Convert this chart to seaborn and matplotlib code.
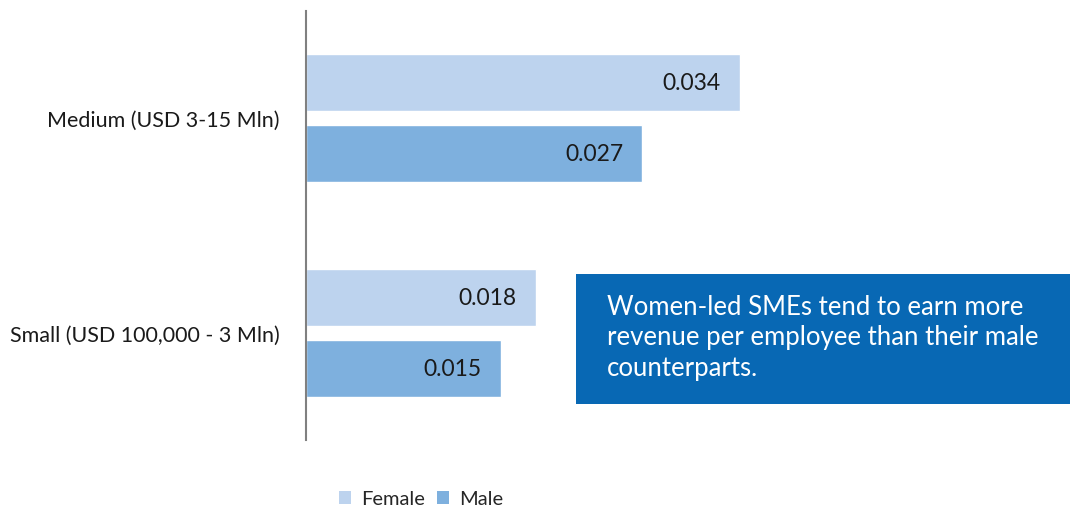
import pandas as pd
import matplotlib.pyplot as plt
import seaborn as sns
from matplotlib.patches import Rectangle, Patch

# Dados
categories = ["Medium (USD 3-15 Mln)", "Small (USD 100,000 - 3 Mln)"]
female = [0.0343, 0.0182]
male = [0.0266, 0.0154]
series = ["Female", "Male"]
colors = ["#bdd3ee", "#7eb0de"]
note = "Women-led SMEs tend to earn more\nrevenue per employee than their male\ncounterparts."

df = pd.DataFrame({
    "category": categories * 2,
    "value": female + male,
    "gender": ["Female"] * len(categories) + ["Male"] * len(categories),
})

sns.set_style("white")
plt.rcParams["font.family"] = ["Lato", "DejaVu Sans"]

fig = plt.figure(figsize=(10.7, 5.1), dpi=100)
ax = fig.add_axes([0.286, 0.135, 0.714, 0.8415])

sns.barplot(data=df, y="category", x="value", hue="gender", order=categories,
            hue_order=series, palette=colors, width=0.662, gap=0.197,
            saturation=1, orient="h", legend=False, ax=ax)

ax.set_xlim(0, 0.0604)
ax.set_ylim(1.5, -0.5)
ax.set_xlabel("")
ax.set_ylabel("")
ax.set_xticks([])
for s in ["top", "right", "bottom"]:
    ax.spines[s].set_visible(False)
ax.spines["left"].set_color("#808080")
ax.spines["left"].set_linewidth(1.5)
ax.tick_params(axis="y", length=0, pad=19, labelsize=15.5, labelcolor="#1a1a1a")

# Rótulos dentro das barras
for cont in ax.containers:
    for bar in cont:
        w = bar.get_width()
        ax.annotate(f"{w:.3f}", (w, bar.get_y() + bar.get_height() / 2),
                    xytext=(-14, 0), textcoords="offset points",
                    ha="right", va="center", fontsize=16.5, color="#1a1a1a")

# Legenda
handles = [Patch(facecolor=c, edgecolor="none") for c in colors]
fig.legend(handles, series, loc="center", bbox_to_anchor=(421 / 1070, 1 - 500 / 510),
           ncol=2, frameon=False, fontsize=14.5, handlelength=0.6, handleheight=0.6,
           handletextpad=0.5, columnspacing=0.6)

# Caixa de texto
fig.patches.append(Rectangle((576 / 1070, 1 - 405 / 510), 494 / 1070, 130 / 510,
                             transform=fig.transFigure, facecolor="#0868b4",
                             edgecolor="none", zorder=5))
fig.text(607 / 1070, 1 - 338 / 510, note, color="white", fontsize=18.5,
         ha="left", va="center", linespacing=1.27, zorder=6)

plt.savefig("out.png")
